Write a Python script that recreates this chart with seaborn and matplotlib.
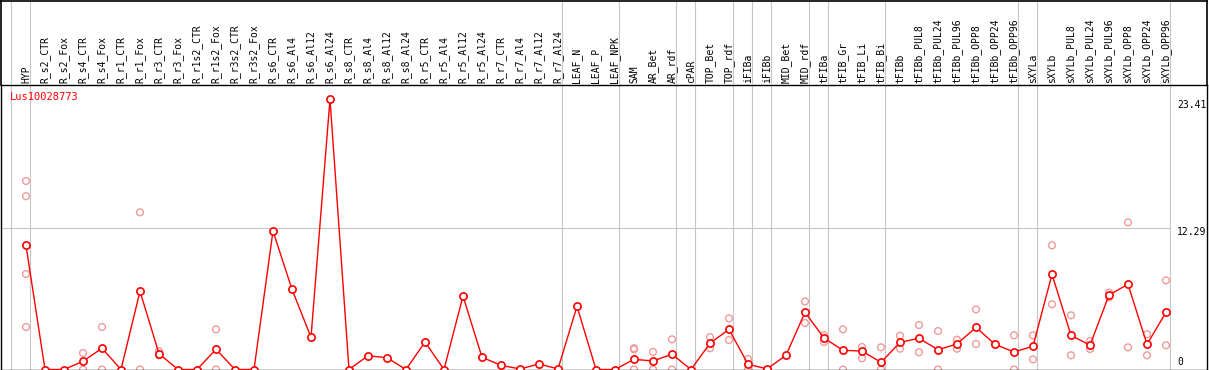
import numpy as np
import pandas as pd
import matplotlib
matplotlib.use("Agg")
import matplotlib.pyplot as plt
import seaborn as sns

categories = [
    "HYP", "R_s2_CTR", "R_s2_Fox", "R_s4_CTR", "R_s4_Fox", "R_r1_CTR", "R_r1_Fox",
    "R_r3_CTR", "R_r3_Fox", "R_r1s2_CTR", "R_r1s2_Fox", "R_r3s2_CTR", "R_r3s2_Fox",
    "R_s6_CTR", "R_s6_Al4", "R_s6_Al12", "R_s6_Al24", "R_s8_CTR", "R_s8_Al4",
    "R_s8_Al12", "R_s8_Al24", "R_r5_CTR", "R_r5_Al4", "R_r5_Al12", "R_r5_Al24",
    "R_r7_CTR", "R_r7_Al4", "R_r7_Al12", "R_r7_Al24", "LEAF_N", "LEAF_P", "LEAF_NPK",
    "SAM", "AR_Bet", "AR_rdf", "cPAR", "TOP_Bet", "TOP_rdf", "iFIBa", "iFIBb",
    "MID_Bet", "MID_rdf", "tFIBa", "tFIB_Gr", "tFIB_Li", "tFIB_Bi", "tFIBb",
    "tFIBb_PUL8", "tFIBb_PUL24", "tFIBb_PUL96", "tFIBb_OPP8", "tFIBb_OPP24",
    "tFIBb_OPP96", "sXYLa", "sXYLb", "sXYLb_PUL8", "sXYLb_PUL24", "sXYLb_PUL96",
    "sXYLb_OPP8", "sXYLb_OPP24", "sXYLb_OPP96",
]

mean_values = [
    10.75, 0.0, 0.0, 0.71, 1.84, 0.0, 6.77,
    1.37, 0.0, 0.0, 1.75, 0.0, 0.0,
    11.99, 6.94, 2.79, 23.41, 0.0, 1.19,
    1.02, 0.0, 2.38, 0.0, 6.36, 1.06,
    0.36, 0.05, 0.48, 0.05, 5.47, 0.0, 0.0,
    0.88, 0.74, 1.32, 0.0, 2.27, 3.48, 0.45, 0.05,
    1.23, 4.95, 2.73, 1.66, 1.60, 0.62, 2.35,
    2.70, 1.71, 2.21, 3.65, 2.18,
    1.52, 2.01, 8.24, 2.96, 2.10, 6.45,
    7.38, 2.18, 4.95,
]

replicates = [
    [16.32, 15.0, 8.27, 3.68], [], [], [1.43, 0.0], [3.68, 0.0], [], [13.61, 0.0],
    [1.58, 1.23], [], [], [3.48, 0.0], [], [],
    [], [], [], [], [], [],
    [], [], [], [], [], [],
    [], [], [], [], [], [], [],
    [1.84, 1.75, 0.0], [1.52, 0.0], [2.61, 0.0], [], [2.81, 1.84], [4.43, 2.55], [0.91, 0.0], [],
    [], [5.90, 4.03], [2.96, 2.38], [3.48, 0.0], [1.95, 0.97], [1.92, 0.0], [2.93, 1.80],
    [3.85, 1.49], [3.33, 0.0], [2.58, 1.80], [5.21, 2.21], [2.18, 2.18],
    [2.96, 0.0], [2.96, 0.88], [10.75, 5.65], [4.69, 1.23], [2.47, 1.77], [6.65, 6.25],
    [12.74, 1.92], [3.05, 1.23], [7.72, 2.10],
]

# group separators are drawn just after these category indices (-1 = before the first)
separator_after = [-1, 0, 28, 31, 34, 35, 37, 38, 39, 41, 42, 45, 52, 53, 60]

gene_id = "Lus10028773"
axis_marks = [23.41, 12.29, 0.0]
axis_mark_labels = ["23.41", "12.29", "0"]

# ---------------------------------------------------------------- styling
sns.set_theme(style="white")
plt.rcParams["font.family"] = ["DejaVu Sans Mono", "DejaVu Sans"]

W, H = 1209, 370
fig = plt.figure(figsize=(W / 100, H / 100), dpi=100)

Y0_PX = 369.5      # pixel row of value 0
TOP_PX = 85        # pixel row of header/plot boundary
PX_PER_UNIT = 11.55
X_LEFT_PX, X_RIGHT_PX = 1, 1207
X0_PX, DX_PX = 26, 19

xlim = ((X_LEFT_PX - X0_PX) / DX_PX, (X_RIGHT_PX - X0_PX) / DX_PX)
ylim = (0, (Y0_PX - TOP_PX) / PX_PER_UNIT)

ax = fig.add_axes([X_LEFT_PX / W, (H - Y0_PX) / H,
                   (X_RIGHT_PX - X_LEFT_PX) / W, (Y0_PX - TOP_PX) / H])
axh = fig.add_axes([X_LEFT_PX / W, (H - TOP_PX) / H,
                    (X_RIGHT_PX - X_LEFT_PX) / W, (TOP_PX - 0.6) / H])

grid_color = "#c6c6c6"
rep_color = "#f09a9a"
line_color = "#ff0000"
sep_offset = 4 / DX_PX

n = len(categories)
xs = np.arange(n)

# separators and reference line
for s in separator_after:
    ax.axvline(s + sep_offset, color=grid_color, lw=0.8, zorder=0)
    axh.axvline(s + sep_offset, color=grid_color, lw=0.8, zorder=0)
ax.hlines(axis_marks[1], xlim[0], separator_after[-1] + sep_offset,
          color=grid_color, lw=0.8, zorder=0)

# replicate points
rep_df = pd.DataFrame(
    [(i, v) for i, reps in enumerate(replicates) for v in reps],
    columns=["pos", "value"],
)
sns.scatterplot(data=rep_df, x="pos", y="value", ax=ax, marker="o", s=24,
                color=rep_color, facecolors="none", edgecolor=rep_color,
                linewidth=1.0, zorder=2, legend=False)

# mean line
mean_df = pd.DataFrame({"pos": xs, "value": mean_values})
sns.lineplot(data=mean_df, x="pos", y="value", ax=ax, color=line_color, lw=1.0,
             marker="o", markersize=5.2, markerfacecolor="white",
             markeredgecolor=line_color, markeredgewidth=1.2, zorder=3)

ax.set_xlim(*xlim)
ax.set_ylim(*ylim)
ax.set_xlabel("")
ax.set_ylabel("")
ax.set_yticks([])
ax.set_xticks(xs)
ax.set_xticklabels(categories, rotation=90, fontsize=7, color="black")
ax.xaxis.set_ticks_position("top")
ax.tick_params(axis="x", length=0, pad=1.5, labeltop=True, labelbottom=False)
for sp in ax.spines.values():
    sp.set_color("black")
    sp.set_linewidth(1.0)

axh.set_xlim(*xlim)
axh.set_ylim(0, 1)
axh.set_xticks([])
axh.set_yticks([])
axh.patch.set_visible(False)
for name, sp in axh.spines.items():
    sp.set_color("black")
    sp.set_linewidth(1.2)
axh.spines["bottom"].set_visible(False)

# gene label
fig.text(10 / W, 1 - 97 / H, gene_id, color="red", fontsize=7.5,
         ha="left", va="center")

# right-side value marks
offsets_px = [-6, -4.5, 7.5]
for v, lab, off in zip(axis_marks, axis_mark_labels, offsets_px):
    ax.annotate(lab, xy=(1177 / W, v), xycoords=("figure fraction", "data"),
                xytext=(0, off), textcoords="offset pixels",
                ha="left", va="center", fontsize=7, color="black",
                annotation_clip=False)

fig.savefig("out.png", dpi=100)
